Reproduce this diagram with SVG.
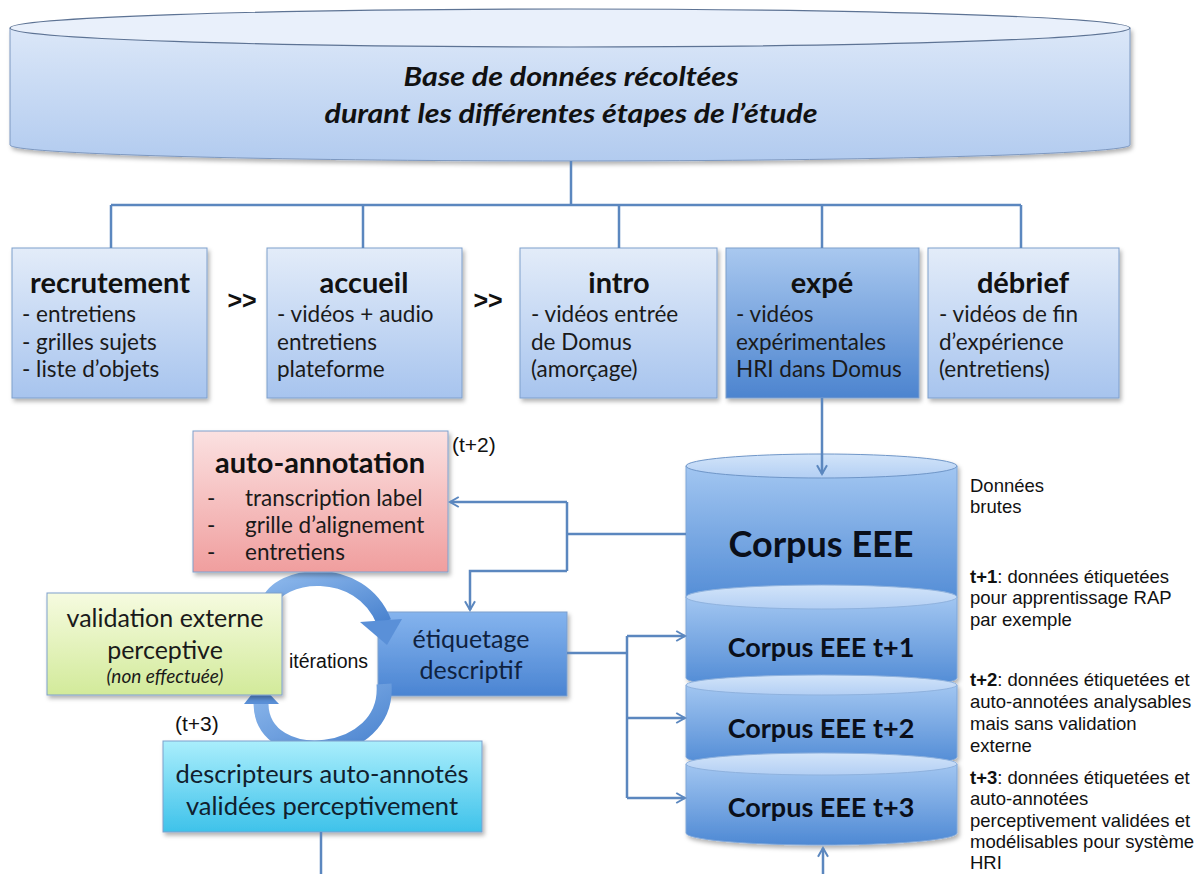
<svg xmlns="http://www.w3.org/2000/svg" width="1195" height="874" viewBox="0 0 1195 874">
<defs>
  <linearGradient id="gTop" x1="0" y1="0" x2="0" y2="1">
    <stop offset="0" stop-color="#dbe7f8"/>
    <stop offset="1" stop-color="#b2cbef"/>
  </linearGradient>
  <linearGradient id="gBox" x1="0" y1="0" x2="0" y2="1">
    <stop offset="0" stop-color="#e3ecf9"/>
    <stop offset="1" stop-color="#a7c4ee"/>
  </linearGradient>
  <linearGradient id="gExpe" x1="0" y1="0" x2="0" y2="1">
    <stop offset="0" stop-color="#a9c8ef"/>
    <stop offset="1" stop-color="#4c84cf"/>
  </linearGradient>
  <linearGradient id="gPink" x1="0" y1="0" x2="0" y2="1">
    <stop offset="0" stop-color="#fbe1e1"/>
    <stop offset="1" stop-color="#f09e9e"/>
  </linearGradient>
  <linearGradient id="gGreen" x1="0" y1="0" x2="0" y2="1">
    <stop offset="0" stop-color="#f6fbe0"/>
    <stop offset="1" stop-color="#d2ea9a"/>
  </linearGradient>
  <linearGradient id="gEtiq" x1="0" y1="0" x2="0" y2="1">
    <stop offset="0" stop-color="#85b4ee"/>
    <stop offset="1" stop-color="#4a84d2"/>
  </linearGradient>
  <linearGradient id="gCyan" x1="0" y1="0" x2="0" y2="1">
    <stop offset="0" stop-color="#aaeefc"/>
    <stop offset="1" stop-color="#3ec2ea"/>
  </linearGradient>
  <linearGradient id="gCorp" x1="0" y1="0" x2="0" y2="1">
    <stop offset="0" stop-color="#a2c6f1"/>
    <stop offset="1" stop-color="#4e89d4"/>
  </linearGradient>
  <linearGradient id="gCap" x1="0" y1="0" x2="0" y2="1">
    <stop offset="0" stop-color="#d2e4f9"/>
    <stop offset="1" stop-color="#b3cff4"/>
  </linearGradient>
  <linearGradient id="gArc" x1="0" y1="0" x2="1" y2="1">
    <stop offset="0" stop-color="#8db8ec"/>
    <stop offset="1" stop-color="#4a83cf"/>
  </linearGradient>
  <filter id="sh" x="-10%" y="-10%" width="120%" height="130%">
    <feDropShadow dx="2" dy="3" stdDeviation="2" flood-color="#000" flood-opacity="0.3"/>
  </filter>
  <marker id="arr" viewBox="0 0 10 10" refX="8.5" refY="5" markerWidth="5" markerHeight="5" orient="auto" markerUnits="strokeWidth">
    <path d="M1.5,1 L8.5,5 L1.5,9" fill="none" stroke="#5b87bf" stroke-width="1.6" stroke-linejoin="miter"/>
  </marker>
</defs>
<style>
  .cal { font-family: Lato, "Liberation Sans", sans-serif; }
  .ari { font-family: "Liberation Sans", Arial, sans-serif; fill: #111; }
  .ttl { font-weight: bold; font-size: 29px; text-anchor: middle; fill: #111; }
  .itm { font-size: 22.5px; fill: #1a1a1a; }
  .mid { text-anchor: middle; }
  .conn { fill: none; stroke: #5b87bf; stroke-width: 2.5; }
  .box { stroke: #7e9fcc; stroke-width: 1; filter: url(#sh); }
  .rt { font-size: 18.5px; }
</style>
<rect width="1195" height="874" fill="#ffffff"/>

<g id="base">
  <path d="M10 28 L10 145 A560 16 0 0 0 1130 145 L1130 28 Z" fill="url(#gTop)" stroke="#7d98c0" stroke-width="1" filter="url(#sh)"/>
  <ellipse cx="570" cy="28" rx="560" ry="19" fill="#e9f0fb" stroke="#5d7394" stroke-width="1.2"/>
  <text class="cal" x="571" y="86" text-anchor="middle" font-size="26" font-weight="bold" font-style="italic" fill="#111" textLength="335" lengthAdjust="spacingAndGlyphs">Base de données récoltées</text>
  <text class="cal" x="571" y="123" text-anchor="middle" font-size="26" font-weight="bold" font-style="italic" fill="#111" textLength="493" lengthAdjust="spacingAndGlyphs">durant les différentes étapes de l’étude</text>
</g>

<g id="recrutement">
  <rect class="box" x="12" y="248" width="195" height="150" fill="url(#gBox)"/>
  <text class="cal ttl" x="110" y="293">recrutement</text>
  <text class="cal itm" x="22" y="322">- entretiens</text>
  <text class="cal itm" x="22" y="350">- grilles sujets</text>
  <text class="cal itm" x="22" y="377">- liste d’objets</text>
</g>
<text class="ari" x="242" y="309" text-anchor="middle" font-size="25" font-weight="bold">&gt;&gt;</text>
<g id="accueil">
  <rect class="box" x="267" y="248" width="195" height="150" fill="url(#gBox)"/>
  <text class="cal ttl" x="364" y="293">accueil</text>
  <text class="cal itm" x="277" y="322">- vidéos + audio</text>
  <text class="cal itm" x="277" y="350">entretiens</text>
  <text class="cal itm" x="277" y="377">plateforme</text>
</g>
<text class="ari" x="488" y="309" text-anchor="middle" font-size="25" font-weight="bold">&gt;&gt;</text>
<g id="intro">
  <rect class="box" x="520" y="248" width="197" height="150" fill="url(#gBox)"/>
  <text class="cal ttl" x="619" y="293">intro</text>
  <text class="cal itm" x="531" y="322">- vidéos entrée</text>
  <text class="cal itm" x="531" y="350">de Domus</text>
  <text class="cal itm" x="531" y="377">(amorçage)</text>
</g>
<g id="expe">
  <rect class="box" x="726" y="248" width="193" height="150" fill="url(#gExpe)" stroke="#6a8fc0"/>
  <text class="cal ttl" x="822" y="293">expé</text>
  <text class="cal itm" x="736" y="322">- vidéos</text>
  <text class="cal itm" x="736" y="350">expérimentales</text>
  <text class="cal itm" x="736" y="377">HRI dans Domus</text>
</g>
<g id="debrief">
  <rect class="box" x="928" y="248" width="191" height="150" fill="url(#gBox)"/>
  <text class="cal ttl" x="1023" y="293">débrief</text>
  <text class="cal itm" x="939" y="322">- vidéos de fin</text>
  <text class="cal itm" x="939" y="350">d’expérience</text>
  <text class="cal itm" x="939" y="377">(entretiens)</text>
</g>

<g id="corpus">
  <g filter="url(#sh)">
    <path d="M686 466 L686 597 A135.5 12 0 0 0 957 597 L957 466 Z" fill="url(#gCorp)" stroke="#7fa6d8" stroke-width="1"/>
    <ellipse cx="821.5" cy="466" rx="135.5" ry="12" fill="url(#gCap)" stroke="#6f96c8" stroke-width="1"/>
    <path d="M686 597 L686 678 A135.5 11 0 0 0 957 678 L957 597 Z" fill="url(#gCorp)" stroke="#7fa6d8" stroke-width="1"/>
    <ellipse cx="821.5" cy="597" rx="135.5" ry="12" fill="url(#gCap)" stroke="#8fb2de" stroke-width="1"/>
    <path d="M686 685 L686 757 A135.5 11 0 0 0 957 757 L957 685 Z" fill="url(#gCorp)" stroke="#7fa6d8" stroke-width="1"/>
    <ellipse cx="821.5" cy="685" rx="135.5" ry="10" fill="url(#gCap)" stroke="#8fb2de" stroke-width="1"/>
    <path d="M686 764 L686 833 A135.5 12 0 0 0 957 833 L957 764 Z" fill="url(#gCorp)" stroke="#7fa6d8" stroke-width="1"/>
    <ellipse cx="821.5" cy="764" rx="135.5" ry="11" fill="url(#gCap)" stroke="#8fb2de" stroke-width="1"/>
  </g>
  <text class="cal" x="821" y="557" text-anchor="middle" font-size="36" font-weight="bold" fill="#0a0f1a">Corpus EEE</text>
  <text class="cal" x="821" y="657" text-anchor="middle" font-size="27" font-weight="bold" fill="#0a0f1a">Corpus EEE t+1</text>
  <text class="cal" x="821" y="738" text-anchor="middle" font-size="27" font-weight="bold" fill="#0a0f1a">Corpus EEE t+2</text>
  <text class="cal" x="821" y="817" text-anchor="middle" font-size="27" font-weight="bold" fill="#0a0f1a">Corpus EEE t+3</text>
</g>

<g id="etiquetage">
  <rect class="box" x="378" y="612" width="189" height="84" fill="url(#gEtiq)" stroke="#5c89c4"/>
  <text class="cal mid" x="471" y="648" font-size="25" fill="#0f2240">étiquetage</text>
  <text class="cal mid" x="471" y="679" font-size="25" fill="#0f2240">descriptif</text>
</g>

<g id="iterations">
  <path d="M268 604 C278 572 360 562 384 622" fill="none" stroke="url(#gArc)" stroke-width="15"/>
  <polygon points="360,622 402,619 387,645" fill="#5a90d8"/>
  <path d="M384 684 C390 760 262 770 261 704" fill="none" stroke="url(#gArc)" stroke-width="15"/>
  <polygon points="244,704 279,704 260,684" fill="#5a90d8"/>
  <text class="ari" x="289" y="668" font-size="19.5">itérations</text>
</g>

<g id="validation">
  <rect class="box" x="47" y="593" width="235" height="102" fill="url(#gGreen)" stroke="#a9b87c"/>
  <text class="cal mid" x="165" y="627" font-size="25" fill="#1a1a1a">validation externe</text>
  <text class="cal mid" x="165" y="659" font-size="25" fill="#1a1a1a">perceptive</text>
  <text class="cal mid" x="165" y="683" font-size="19" font-style="italic" fill="#1a1a1a">(non effectuée)</text>
</g>

<g id="autoannotation">
  <rect class="box" x="193" y="431" width="255" height="141" fill="url(#gPink)" stroke="#d08a8a"/>
  <text class="cal ttl" x="320" y="473">auto-annotation</text>
  <text class="cal itm" x="207" y="506" fill="#4a1515">-</text>
  <text class="cal itm" x="245" y="506" fill="#4a1515">transcription label</text>
  <text class="cal itm" x="207" y="533" fill="#4a1515">-</text>
  <text class="cal itm" x="245" y="533" fill="#4a1515">grille d’alignement</text>
  <text class="cal itm" x="207" y="560" fill="#4a1515">-</text>
  <text class="cal itm" x="245" y="560" fill="#4a1515">entretiens</text>
</g>
<text class="ari" x="452" y="452" font-size="21">(t+2)</text>
<text class="ari" x="175" y="731" font-size="21">(t+3)</text>

<g id="descripteurs">
  <rect class="box" x="163" y="741" width="319" height="91" fill="url(#gCyan)" stroke="#3aa6cc"/>
  <text class="cal mid" x="322" y="783" font-size="25.5" fill="#10202e">descripteurs auto-annotés</text>
  <text class="cal mid" x="322" y="815" font-size="25.5" fill="#10202e">validées perceptivement</text>
</g>

<g id="notes" class="ari rt">
  <text x="970" y="492">Données</text>
  <text x="970" y="513">brutes</text>
  <text x="970" y="583"><tspan font-weight="bold">t+1</tspan>: données étiquetées</text>
  <text x="970" y="604">pour apprentissage RAP</text>
  <text x="970" y="626">par exemple</text>
  <text x="970" y="686"><tspan font-weight="bold">t+2</tspan>: données étiquetées et</text>
  <text x="970" y="708">auto-annotées analysables</text>
  <text x="970" y="730">mais sans validation</text>
  <text x="970" y="752">externe</text>
  <text x="970" y="784"><tspan font-weight="bold">t+3</tspan>: données étiquetées et</text>
  <text x="970" y="805">auto-annotées</text>
  <text x="970" y="827">perceptivement validées et</text>
  <text x="970" y="848">modélisables pour système</text>
  <text x="970" y="869">HRI</text>
</g>

<g id="connectors" class="conn">
  <path d="M571 161 V205"/>
  <path d="M111 205 H1021"/>
  <path d="M111 205 V248"/>
  <path d="M363 205 V248"/>
  <path d="M619 205 V248"/>
  <path d="M822 205 V248"/>
  <path d="M1021 205 V248"/>
  <path d="M822 398 V474" marker-end="url(#arr)"/>
  <path d="M686 534 H567"/>
  <path d="M567 502 V571"/>
  <path d="M567 502 H450" marker-end="url(#arr)"/>
  <path d="M567 571 H470 V610" marker-end="url(#arr)"/>
  <path d="M567 653 H627"/>
  <path d="M627 636 V798"/>
  <path d="M627 636 H685" marker-end="url(#arr)"/>
  <path d="M627 718 H685" marker-end="url(#arr)"/>
  <path d="M627 798 H685" marker-end="url(#arr)"/>
  <path d="M823 874 V848" marker-end="url(#arr)"/>
  <path d="M321 832 V874"/>
</g>
</svg>
